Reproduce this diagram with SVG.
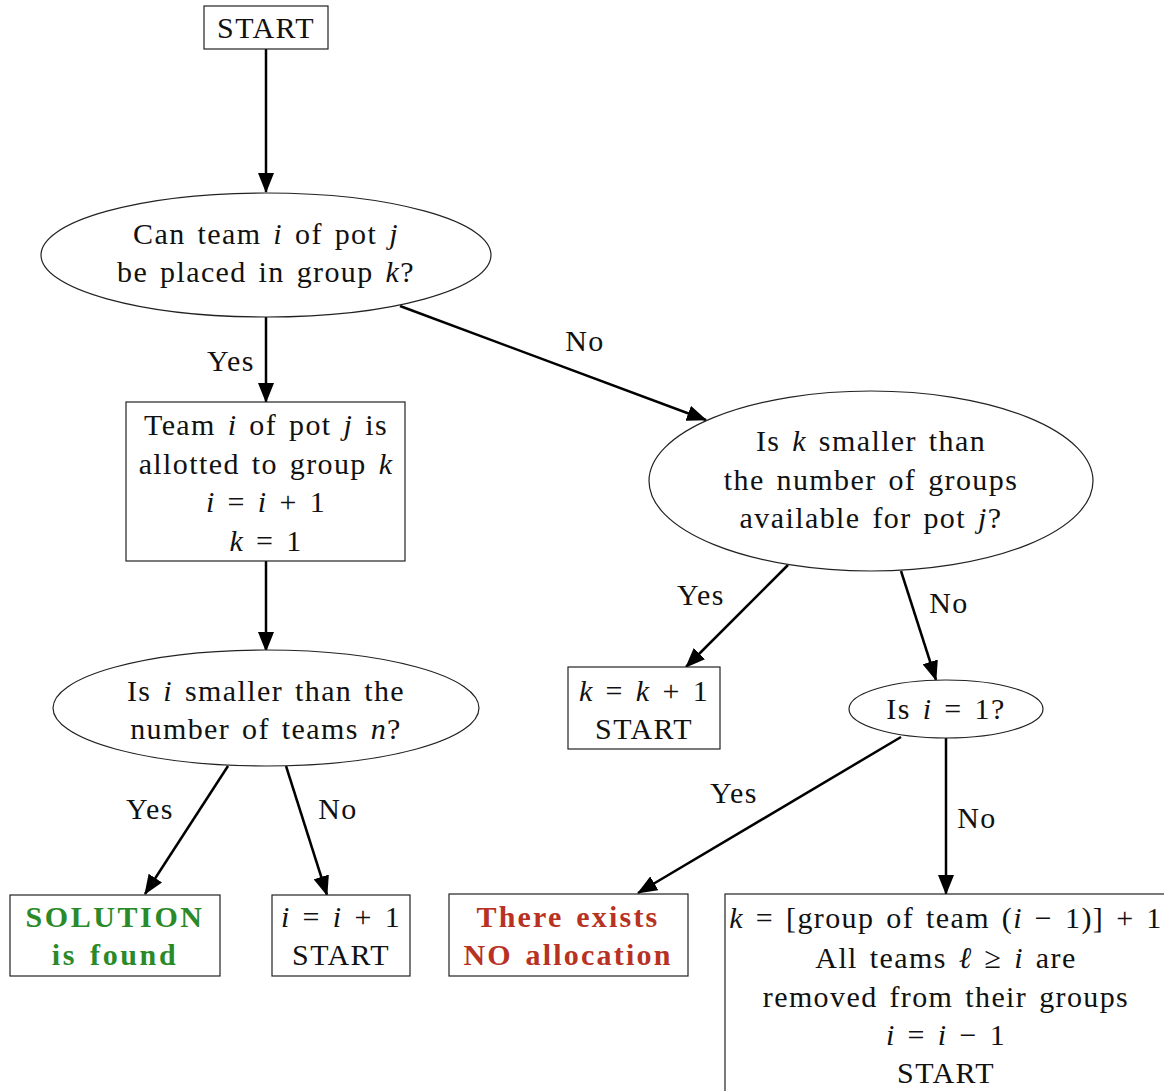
<svg xmlns="http://www.w3.org/2000/svg" width="1164" height="1091" viewBox="0 0 1164 1091">
<style>
text{font-family:"Liberation Serif","DejaVu Serif",serif;font-size:30px;fill:#111;text-anchor:middle;letter-spacing:1.4px;word-spacing:3px}
.m{font-style:italic}
.node{fill:#fff;stroke:#222;stroke-width:1.2}
.edge{stroke:#000;stroke-width:2.5;fill:none;marker-end:url(#ah)}
.g{fill:#2a8a2a;font-weight:bold;letter-spacing:2.6px}
.r{fill:#b83224;font-weight:bold;letter-spacing:2.2px}
</style>
<defs>
<marker id="ah" markerUnits="userSpaceOnUse" markerWidth="20" markerHeight="16" refX="19" refY="8" orient="auto" viewBox="0 0 20 16">
<path d="M0,0 L20,8 L0,16 z" fill="#000"/>
</marker>
</defs>
<rect width="1164" height="1091" fill="#fff"/>
<g id="connectors">
<line class="edge" x1="266" y1="49" x2="266" y2="192"/>
<line class="edge" x1="266" y1="317" x2="266" y2="402"/>
<line class="edge" x1="266" y1="561" x2="266" y2="651"/>
<line class="edge" x1="228" y1="766" x2="145" y2="894"/>
<line class="edge" x1="286" y1="766" x2="327" y2="895"/>
<line class="edge" x1="400" y1="306" x2="706" y2="420"/>
<line class="edge" x1="788" y1="565" x2="686" y2="667"/>
<line class="edge" x1="901" y1="571" x2="936" y2="680"/>
<line class="edge" x1="901" y1="737" x2="638" y2="893"/>
<line class="edge" x1="946" y1="738" x2="946" y2="894"/>
<text x="231" y="371">Yes</text>
<text x="150" y="819">Yes</text>
<text x="338" y="819">No</text>
<text x="585" y="351">No</text>
<text x="701" y="605">Yes</text>
<text x="949" y="613">No</text>
<text x="734" y="803">Yes</text>
<text x="977" y="828">No</text>
</g>
<g id="start">
<rect class="node" x="204" y="6" width="124" height="43"/>
<text x="266" y="38">START</text>
</g>
<g id="q1">
<ellipse class="node" cx="266" cy="255" rx="225" ry="62"/>
<text x="266" y="244">Can team <tspan class="m">i</tspan> of pot <tspan class="m">j</tspan></text>
<text x="266" y="282">be placed in group <tspan class="m">k</tspan>?</text>
</g>
<g id="allot">
<rect class="node" x="126" y="402" width="279" height="159"/>
<text x="266" y="435">Team <tspan class="m">i</tspan> of pot <tspan class="m">j</tspan> is</text>
<text x="266" y="474">allotted to group <tspan class="m">k</tspan></text>
<text x="266" y="512"><tspan class="m">i</tspan> = <tspan class="m">i</tspan> + 1</text>
<text x="266" y="551"><tspan class="m">k</tspan> = 1</text>
</g>
<g id="q3">
<ellipse class="node" cx="266" cy="708" rx="213" ry="58"/>
<text x="266" y="701">Is <tspan class="m">i</tspan> smaller than the</text>
<text x="266" y="739">number of teams <tspan class="m">n</tspan>?</text>
</g>
<g id="solution">
<rect class="node" x="10" y="895" width="210" height="81"/>
<text class="g" x="115" y="927">SOLUTION</text>
<text class="g" x="115" y="965">is found</text>
</g>
<g id="inc">
<rect class="node" x="272" y="895" width="138" height="81"/>
<text x="341" y="927"><tspan class="m">i</tspan> = <tspan class="m">i</tspan> + 1</text>
<text x="341" y="965">START</text>
</g>
<g id="q2">
<ellipse class="node" cx="871" cy="481" rx="222" ry="90"/>
<text x="871" y="451">Is <tspan class="m">k</tspan> smaller than</text>
<text x="871" y="490">the number of groups</text>
<text x="871" y="528">available for pot <tspan class="m">j</tspan>?</text>
</g>
<g id="kinc">
<rect class="node" x="568" y="667" width="152" height="82"/>
<text x="644" y="701"><tspan class="m">k</tspan> = <tspan class="m">k</tspan> + 1</text>
<text x="644" y="739">START</text>
</g>
<g id="q4">
<ellipse class="node" cx="946" cy="709" rx="97" ry="29"/>
<text x="946" y="719">Is <tspan class="m">i</tspan> = 1?</text>
</g>
<g id="noalloc">
<rect class="node" x="449" y="894" width="239" height="82"/>
<text class="r" x="568" y="927">There exists</text>
<text class="r" x="568" y="965">NO allocation</text>
</g>
<g id="backtrack">
<rect class="node" x="725" y="894" width="460" height="220"/>
<text x="946" y="928"><tspan class="m">k</tspan> = [group of team (<tspan class="m">i</tspan> − 1)] + 1</text>
<text x="946" y="968">All teams <tspan class="m">ℓ</tspan> ≥ <tspan class="m">i</tspan> are</text>
<text x="946" y="1007">removed from their groups</text>
<text x="946" y="1045"><tspan class="m">i</tspan> = <tspan class="m">i</tspan> − 1</text>
<text x="946" y="1083">START</text>
</g>
</svg>
